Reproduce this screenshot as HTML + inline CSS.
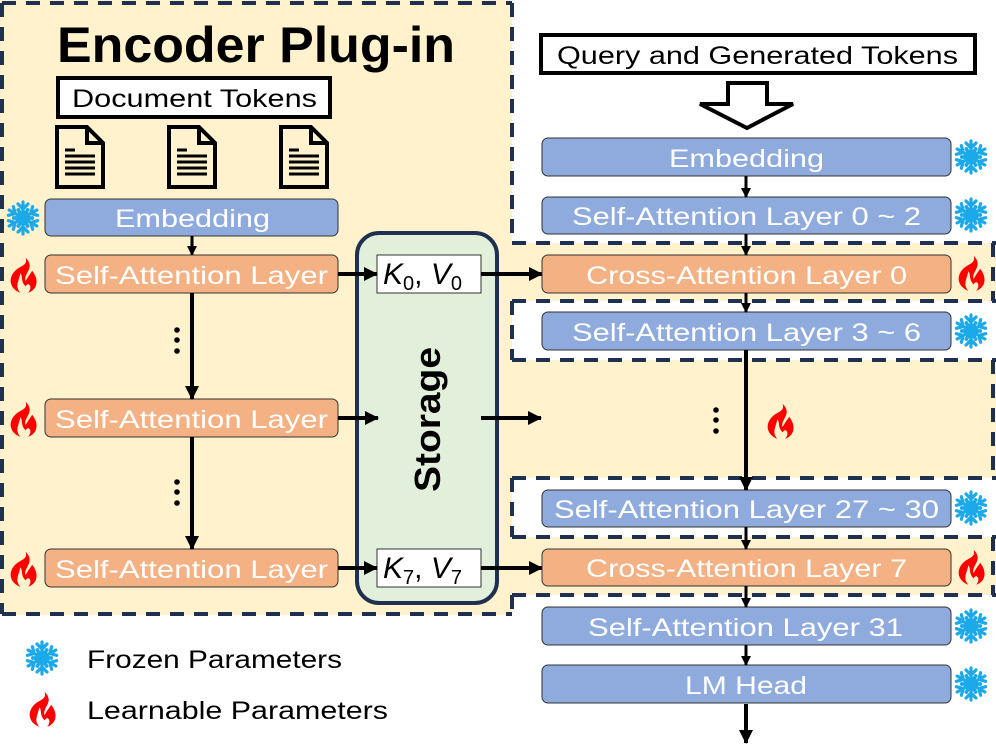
<!DOCTYPE html>
<html><head><meta charset="utf-8"><style>
html,body{margin:0;padding:0;background:#fff;}
svg{display:block;}
text{font-family:"Liberation Sans",sans-serif;}
.w{fill:#fff;font-size:25px;}
.b{fill:#000;font-size:25px;}
</style></head><body>
<svg width="996" height="747" viewBox="0 0 996 747" xmlns="http://www.w3.org/2000/svg">
<defs>
<marker id="ah" markerWidth="10" markerHeight="10" refX="9" refY="5" orient="auto" markerUnits="userSpaceOnUse"><path d="M0,0 L10,5 L0,10 Z" fill="#000"/></marker>
<marker id="ah2" markerWidth="14" markerHeight="14" refX="13" refY="7" orient="auto" markerUnits="userSpaceOnUse"><path d="M0,0 L14,7 L0,14 Z" fill="#000"/></marker>
<g id="snow" stroke="#1ba9ea" stroke-width="3.2" stroke-linecap="round" fill="none">
<g id="arm"><line x1="0" y1="0" x2="0" y2="-16"/><polyline points="-5,-14 0,-9 5,-14"/><polyline points="-5,-8 0,-3 5,-8"/></g>
<use href="#arm" transform="rotate(60)"/><use href="#arm" transform="rotate(120)"/><use href="#arm" transform="rotate(180)"/><use href="#arm" transform="rotate(240)"/><use href="#arm" transform="rotate(300)"/>
</g>
<g id="fire"><path transform="scale(1.3)" fill="#ff0000" d="M2,-14 C10,-6 0,-2 2,4 C4,0 6,-2 7,-4 C12,2 12,10 4,13 C8,8 4,4 2,8 C-2,4 0,0 -2,-2 C-4,6 -6,8 -2,13 C-10,10 -12,2 -6,-4 C-2,-8 4,-8 2,-14 Z"/></g>
<g id="doc"><path d="M2,2 H32 L48,18 V62 H2 Z" fill="none" stroke="#000" stroke-width="4"/><path d="M32,2 V18 H48" fill="none" stroke="#000" stroke-width="4"/>
<g stroke="#000" stroke-width="3"><line x1="10" y1="25" x2="20" y2="25"/><line x1="10" y1="31" x2="40" y2="31"/><line x1="10" y1="37" x2="40" y2="37"/><line x1="10" y1="43" x2="40" y2="43"/><line x1="10" y1="49" x2="40" y2="49"/></g></g>
</defs>

<rect x="0" y="0" width="512" height="615" fill="#fff2cc"/>
<rect x="512" y="243" width="484" height="58" fill="#fff2cc"/>
<rect x="512" y="360" width="484" height="118" fill="#fff2cc"/>
<rect x="512" y="537" width="484" height="58" fill="#fff2cc"/>

<g stroke="#1f3050" stroke-width="4" stroke-dasharray="14,10" fill="none">
<line x1="2" y1="3" x2="512" y2="3"/>
<line x1="2" y1="3" x2="2" y2="614"/>
<line x1="2" y1="614" x2="512" y2="614"/>
<line x1="512" y1="3" x2="512" y2="243"/>
<line x1="512" y1="243" x2="996" y2="243"/>
<line x1="512" y1="301" x2="996" y2="301"/>
<line x1="512" y1="360" x2="996" y2="360"/>
<line x1="512" y1="478" x2="996" y2="478"/>
<line x1="512" y1="537" x2="996" y2="537"/>
<line x1="512" y1="595" x2="996" y2="595"/>
<line x1="512" y1="301" x2="512" y2="360"/>
<line x1="512" y1="478" x2="512" y2="537"/>
<line x1="512" y1="595" x2="512" y2="615"/>
<line x1="993" y1="243" x2="993" y2="301"/>
<line x1="993" y1="360" x2="993" y2="478"/>
<line x1="993" y1="537" x2="993" y2="595"/>
</g>

<text x="57" y="62" font-size="50" font-weight="bold" textLength="398" lengthAdjust="spacingAndGlyphs">Encoder Plug-in</text>
<rect x="58" y="78" width="272" height="39" fill="#fff" stroke="#000" stroke-width="4"/>
<text class="b" x="72" y="107" textLength="245" lengthAdjust="spacingAndGlyphs">Document Tokens</text>
<use href="#doc" x="55" y="125"/><use href="#doc" x="167" y="125"/><use href="#doc" x="279" y="125"/>

<rect x="45" y="199" width="293" height="37" rx="6" fill="#8faadc" stroke="#333" stroke-width="1"/>
<text class="w" x="115" y="227" textLength="155" lengthAdjust="spacingAndGlyphs">Embedding</text>
<line x1="192" y1="236" x2="192" y2="255" stroke="#000" stroke-width="3" marker-end="url(#ah)"/>
<rect x="45" y="255" width="293" height="38" rx="6" fill="#f4b183" stroke="#333" stroke-width="1"/>
<text class="w" x="55" y="284" textLength="273" lengthAdjust="spacingAndGlyphs">Self-Attention Layer</text>
<rect x="45" y="399" width="293" height="38" rx="6" fill="#f4b183" stroke="#333" stroke-width="1"/>
<text class="w" x="55" y="428" textLength="273" lengthAdjust="spacingAndGlyphs">Self-Attention Layer</text>
<rect x="45" y="549" width="293" height="38" rx="6" fill="#f4b183" stroke="#333" stroke-width="1"/>
<text class="w" x="55" y="578" textLength="273" lengthAdjust="spacingAndGlyphs">Self-Attention Layer</text>
<line x1="192" y1="293" x2="192" y2="399" stroke="#000" stroke-width="4" marker-end="url(#ah2)"/>
<line x1="192" y1="437" x2="192" y2="549" stroke="#000" stroke-width="4" marker-end="url(#ah2)"/>
<g fill="#000"><circle cx="177" cy="330" r="2.8"/><circle cx="177" cy="340" r="2.8"/><circle cx="177" cy="351" r="2.8"/>
<circle cx="177" cy="482" r="2.8"/><circle cx="177" cy="492" r="2.8"/><circle cx="177" cy="503" r="2.8"/></g>
<use href="#snow" x="23" y="218"/>
<use href="#fire" x="23" y="276"/><use href="#fire" x="23" y="420"/><use href="#fire" x="23" y="570"/>

<rect x="357" y="233" width="140" height="370" rx="22" fill="#e2efda" stroke="#1f3050" stroke-width="4"/>
<text x="0" y="0" font-size="36" font-weight="bold" transform="translate(440,492) rotate(-90)" textLength="145" lengthAdjust="spacingAndGlyphs">Storage</text>
<rect x="377" y="255" width="104" height="38" fill="#fff" stroke="#333" stroke-width="1"/>
<text x="383" y="284" font-family="Liberation Serif,serif" font-size="30" font-style="italic">K<tspan font-style="normal" font-size="20" dy="6">0</tspan><tspan dy="-6" font-style="normal">, </tspan>V<tspan font-style="normal" font-size="20" dy="6">0</tspan></text>
<rect x="377" y="549" width="104" height="38" fill="#fff" stroke="#333" stroke-width="1"/>
<text x="383" y="578" font-family="Liberation Serif,serif" font-size="30" font-style="italic">K<tspan font-style="normal" font-size="20" dy="6">7</tspan><tspan dy="-6" font-style="normal">, </tspan>V<tspan font-style="normal" font-size="20" dy="6">7</tspan></text>
<g stroke="#000" stroke-width="4">
<line x1="338" y1="274" x2="377" y2="274" marker-end="url(#ah2)"/>
<line x1="338" y1="418" x2="378" y2="418" marker-end="url(#ah2)"/>
<line x1="338" y1="568" x2="377" y2="568" marker-end="url(#ah2)"/>
<line x1="481" y1="274" x2="542" y2="274" marker-end="url(#ah2)"/>
<line x1="481" y1="418" x2="541" y2="418" marker-end="url(#ah2)"/>
<line x1="481" y1="568" x2="542" y2="568" marker-end="url(#ah2)"/>
</g>

<rect x="541" y="35" width="434" height="38" fill="#fff" stroke="#000" stroke-width="4"/>
<text class="b" x="557" y="64" textLength="401" lengthAdjust="spacingAndGlyphs">Query and Generated Tokens</text>
<path d="M728,83 H767 V104 H793 L747,128 L700,104 H728 Z" fill="#fff" stroke="#000" stroke-width="4"/>

<g stroke="#333" stroke-width="1">
<rect x="542" y="138" width="409" height="38" rx="6" fill="#8faadc"/>
<rect x="542" y="197" width="409" height="37" rx="6" fill="#8faadc"/>
<rect x="542" y="255" width="409" height="38" rx="6" fill="#f4b183"/>
<rect x="542" y="312" width="409" height="38" rx="6" fill="#8faadc"/>
<rect x="542" y="490" width="409" height="37" rx="6" fill="#8faadc"/>
<rect x="542" y="549" width="409" height="37" rx="6" fill="#f4b183"/>
<rect x="542" y="607" width="409" height="38" rx="6" fill="#8faadc"/>
<rect x="542" y="665" width="409" height="38" rx="6" fill="#8faadc"/>
</g>
<text class="w" x="669" y="167" textLength="155" lengthAdjust="spacingAndGlyphs">Embedding</text>
<text class="w" x="572" y="225" textLength="349" lengthAdjust="spacingAndGlyphs">Self-Attention Layer 0 ~ 2</text>
<text class="w" x="586" y="284" textLength="321" lengthAdjust="spacingAndGlyphs">Cross-Attention Layer 0</text>
<text class="w" x="572" y="341" textLength="349" lengthAdjust="spacingAndGlyphs">Self-Attention Layer 3 ~ 6</text>
<text class="w" x="554" y="518" textLength="385" lengthAdjust="spacingAndGlyphs">Self-Attention Layer 27 ~ 30</text>
<text class="w" x="586" y="577" textLength="321" lengthAdjust="spacingAndGlyphs">Cross-Attention Layer 7</text>
<text class="w" x="588" y="636" textLength="315" lengthAdjust="spacingAndGlyphs">Self-Attention Layer 31</text>
<text class="w" x="685" y="694" textLength="122" lengthAdjust="spacingAndGlyphs">LM Head</text>

<g stroke="#000" stroke-width="3">
<line x1="746" y1="176" x2="746" y2="197" marker-end="url(#ah)"/>
<line x1="746" y1="234" x2="746" y2="255" marker-end="url(#ah)"/>
<line x1="746" y1="293" x2="746" y2="312" marker-end="url(#ah)"/>
<line x1="746" y1="350" x2="746" y2="490" stroke-width="4" marker-end="url(#ah2)"/>
<line x1="746" y1="527" x2="746" y2="549" marker-end="url(#ah)"/>
<line x1="746" y1="586" x2="746" y2="607" marker-end="url(#ah)"/>
<line x1="746" y1="645" x2="746" y2="665" marker-end="url(#ah)"/>
<line x1="746" y1="704" x2="746" y2="743" stroke-width="4" marker-end="url(#ah2)"/>
</g>
<g fill="#000"><circle cx="716" cy="410" r="2.8"/><circle cx="716" cy="420" r="2.8"/><circle cx="716" cy="431" r="2.8"/></g>
<use href="#fire" x="780" y="422"/>
<use href="#snow" x="971" y="157"/><use href="#snow" x="971" y="215"/><use href="#snow" x="971" y="331"/>
<use href="#snow" x="971" y="508"/><use href="#snow" x="971" y="626"/><use href="#snow" x="971" y="684"/>
<use href="#fire" x="971" y="274"/><use href="#fire" x="971" y="568"/>

<use href="#snow" x="42" y="658"/>
<use href="#fire" x="42" y="710"/>
<text class="b" x="87" y="668" font-size="26" textLength="255" lengthAdjust="spacingAndGlyphs">Frozen Parameters</text>
<text class="b" x="87" y="719" font-size="26" textLength="301" lengthAdjust="spacingAndGlyphs">Learnable Parameters</text>
</svg>
</body></html>
